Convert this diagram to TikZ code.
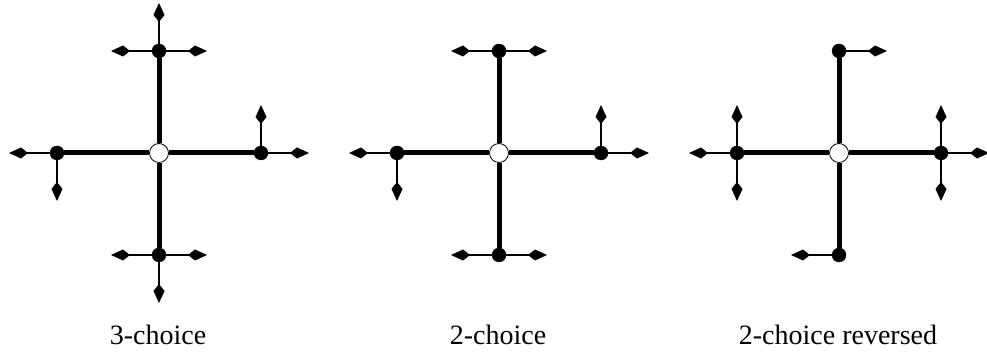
\documentclass[tikz,border=0pt]{standalone}
\usepackage{fontspec}
\setmainfont{Liberation Serif}
\usetikzlibrary{arrows.meta,positioning}

\begin{document}
\begin{tikzpicture}[x=1pt, y=1pt,
    site/.style={draw, circle, fill=black, inner sep=0pt, minimum size=14pt},
    hub/.style={draw, circle, fill=white, inner sep=0pt, minimum size=19pt, line width=0.8pt},
    bond/.style={line width=5pt},
    move/.style={-{Kite[length=19pt, width=11pt, inset=7pt]}, line width=1.1pt},
    caption/.style={anchor=base, font=\fontsize{28}{34}\selectfont}]
    \useasboundingbox (0,0) rectangle (987,352);

    % the three crosses
    \foreach \p/\x in {a/159, b/499, c/839} {
        \node[hub] (\p-hub) at (\x,199) {};
        \node[site] (\p-top) at (\x,301) {};
        \node[site] (\p-bot) at (\x,97) {};
        \node[site] (\p-lft) at (\x-102,199) {};
        \node[site] (\p-rgt) at (\x+102,199) {};
        \draw[bond] (\p-hub) -- (\p-top);
        \draw[bond] (\p-hub) -- (\p-bot);
        \draw[bond] (\p-hub) -- (\p-lft);
        \draw[bond] (\p-hub) -- (\p-rgt);
        \foreach \s in {top, bot, lft, rgt} {
            \coordinate[above=48pt of \p-\s.center] (\p-\s-n);
            \coordinate[below=48pt of \p-\s.center] (\p-\s-s);
            \coordinate[left=48pt of \p-\s.center] (\p-\s-w);
            \coordinate[right=48pt of \p-\s.center] (\p-\s-e);
        }
    }

    % 3-choice
    \draw[move] (a-top) -- (a-top-w);
    \draw[move] (a-top) -- (a-top-e);
    \draw[move] (a-top) -- (a-top-n);
    \draw[move] (a-lft) -- (a-lft-w);
    \draw[move] (a-lft) -- (a-lft-s);
    \draw[move] (a-rgt) -- (a-rgt-e);
    \draw[move] (a-rgt) -- (a-rgt-n);
    \draw[move] (a-bot) -- (a-bot-w);
    \draw[move] (a-bot) -- (a-bot-e);
    \draw[move] (a-bot) -- (a-bot-s);

    % 2-choice
    \draw[move] (b-top) -- (b-top-w);
    \draw[move] (b-top) -- (b-top-e);
    \draw[move] (b-lft) -- (b-lft-w);
    \draw[move] (b-lft) -- (b-lft-s);
    \draw[move] (b-rgt) -- (b-rgt-e);
    \draw[move] (b-rgt) -- (b-rgt-n);
    \draw[move] (b-bot) -- (b-bot-w);
    \draw[move] (b-bot) -- (b-bot-e);

    % 2-choice reversed
    \draw[move] (c-top) -- (c-top-e);
    \draw[move] (c-lft) -- (c-lft-w);
    \draw[move] (c-lft) -- (c-lft-n);
    \draw[move] (c-lft) -- (c-lft-s);
    \draw[move] (c-rgt) -- (c-rgt-e);
    \draw[move] (c-rgt) -- (c-rgt-n);
    \draw[move] (c-rgt) -- (c-rgt-s);
    \draw[move] (c-bot) -- (c-bot-w);

    \node[caption] (a-cap) at (158,7.5) {3-choice};
    \node[caption] (b-cap) at (498,7.5) {2-choice};
    \node[caption] (c-cap) at (838,7.5) {2-choice reversed};
\end{tikzpicture}
\end{document}
